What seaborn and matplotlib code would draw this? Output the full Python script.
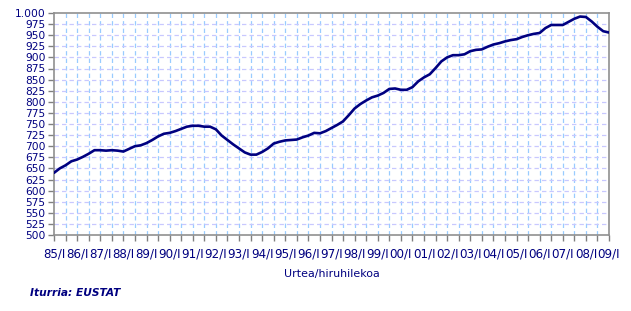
import matplotlib
matplotlib.use("Agg")
import matplotlib.pyplot as plt
import seaborn as sns
import pandas as pd
import numpy as np

# Quarterly values from 1985/I to 2009/I
years = list(range(1985, 2010))
values = [640, 650, 657, 666, 670, 676, 683, 691, 691, 690,
          691, 690, 688, 694, 700, 702, 707, 714, 722, 728,
          730, 734, 739, 744, 746, 746, 744, 744, 738, 724,
          714, 704, 695, 686, 681, 681, 687, 695, 706, 710,
          713, 714, 715, 720, 724, 730, 729, 734, 741, 748,
          756, 770, 785, 795, 803, 810, 814, 820, 829, 830,
          827, 827, 833, 846, 855, 862, 876, 891, 900, 905,
          905, 907, 914, 917, 918, 924, 929, 932, 936, 939,
          941, 946, 950, 953, 955, 966, 973, 973, 973, 980,
          987, 992, 991, 981, 969, 959, 956]
tick_labels = [f"{y % 100:02d}/I" for y in years]
y_ticks = list(range(500, 1001, 25))
y_tick_labels = [f"{v:,}".replace(",", ".") for v in y_ticks]

df = pd.DataFrame({"q": np.arange(len(values)), "v": values})

sns.set_theme(style="white")
plt.rcParams["font.family"] = ["DejaVu Sans"]

navy = "#000080"
fig = plt.figure(figsize=(6.31, 3.11), dpi=100)
ax = fig.add_axes([54 / 631, 1 - 235 / 311, 555 / 631, 222 / 311])

ax.set_xlim(0, len(values) - 1)
ax.set_ylim(500, 1000)

# grid
for q in range(2, len(values) - 1, 2):
    ax.axvline(q, color="#99ccff", lw=0.9, ls=(0, (3.5, 2.5)), zorder=0)
for v in y_ticks[1:-1]:
    ax.axhline(v, color="#c8c8ff", lw=0.9, ls=(0, (3.5, 2.5)), zorder=0)

sns.lineplot(data=df, x="q", y="v", ax=ax, color=navy, lw=1.9, zorder=3)

ax.set_yticks(y_ticks)
ax.set_yticklabels(y_tick_labels, fontsize=7.7, color=navy)
ax.set_xticks(np.arange(0, len(values), 4))
ax.set_xticklabels(tick_labels, fontsize=8.6, color=navy)
ax.set_xticks(np.arange(0, len(values), 2), minor=True)
ax.tick_params(axis="both", which="both", direction="out", color="#808080",
               length=4, width=1, pad=2, bottom=True, left=True)
ax.tick_params(axis="x", which="major", pad=5)

for s in ax.spines.values():
    s.set_color("#909090")
    s.set_linewidth(1.2)

ax.set_xlabel("Urtea/hiruhilekoa", fontsize=7.9, color=navy, labelpad=6)
ax.set_ylabel("")

fig.text(30 / 631, 1 - 293 / 311, "Iturria: EUSTAT", fontsize=7.7, color=navy,
         fontweight="bold", fontstyle="italic", va="center", ha="left")

fig.savefig("out.png", dpi=100)
